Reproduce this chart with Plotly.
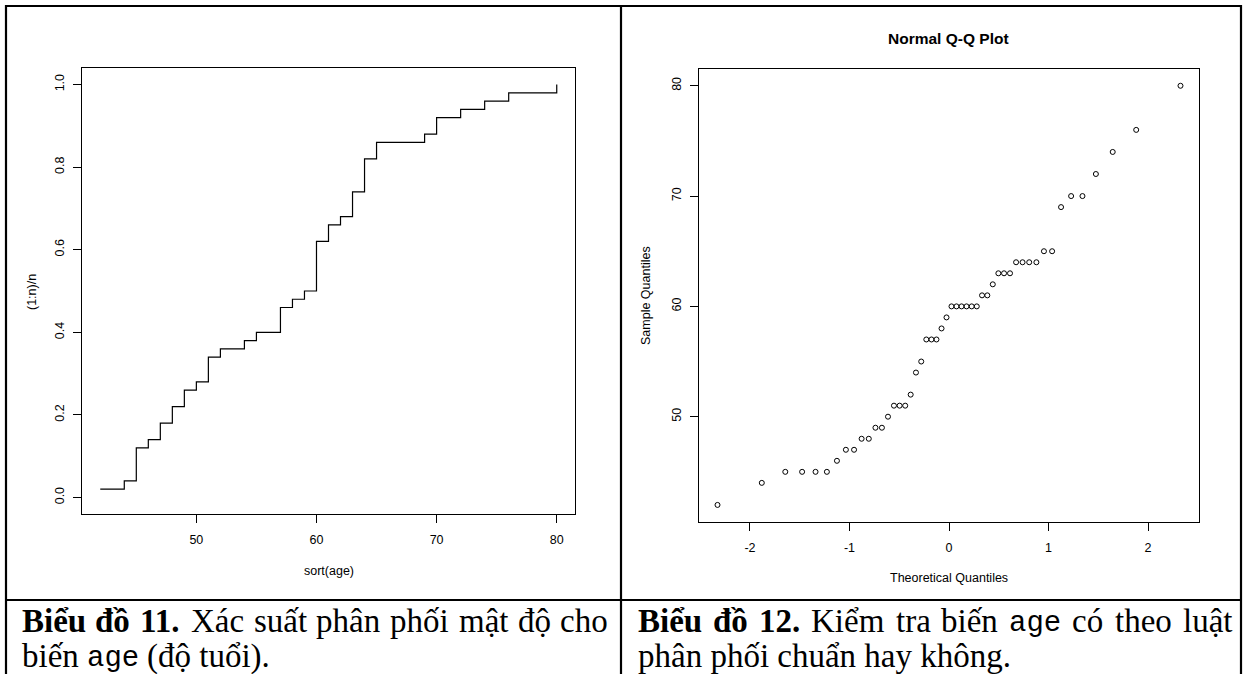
import unicodedata
import plotly.graph_objects as go

W, H = 1246, 674

# sorted ages (n = 50)
age_sorted = [42, 44, 45, 45, 45, 45, 46, 47, 47, 48,
              48, 49, 49, 50, 51, 51, 51, 52, 54, 55,
              57, 57, 57, 58, 59, 60, 60, 60, 60, 60,
              60, 61, 61, 62, 63, 63, 63, 64, 64, 64,
              64, 65, 65, 69, 70, 70, 72, 74, 76, 80]

# (1:n)/n
cum_prop = [0.02, 0.04, 0.06, 0.08, 0.10, 0.12, 0.14, 0.16, 0.18, 0.20,
            0.22, 0.24, 0.26, 0.28, 0.30, 0.32, 0.34, 0.36, 0.38, 0.40,
            0.42, 0.44, 0.46, 0.48, 0.50, 0.52, 0.54, 0.56, 0.58, 0.60,
            0.62, 0.64, 0.66, 0.68, 0.70, 0.72, 0.74, 0.76, 0.78, 0.80,
            0.82, 0.84, 0.86, 0.88, 0.90, 0.92, 0.94, 0.96, 0.98, 1.00]

# theoretical normal quantiles for the 50 ordered ages
theo_q = [-2.326, -1.881, -1.645, -1.476, -1.341, -1.227, -1.126, -1.036, -0.954, -0.878,
          -0.806, -0.739, -0.674, -0.613, -0.553, -0.496, -0.440, -0.385, -0.332, -0.279,
          -0.228, -0.176, -0.126, -0.075, -0.025, 0.025, 0.075, 0.126, 0.176, 0.228,
          0.279, 0.332, 0.385, 0.440, 0.496, 0.553, 0.613, 0.674, 0.739, 0.806,
          0.878, 0.954, 1.036, 1.126, 1.227, 1.341, 1.476, 1.645, 1.881, 2.326]

ecdf_xticks = [50, 60, 70, 80]
ecdf_yticks = [0.0, 0.2, 0.4, 0.6, 0.8, 1.0]
qq_xticks = [-2, -1, 0, 1, 2]
qq_xlabels = ["-2", "-1", "0", "1", "2"]
qq_yticks = [50, 60, 70, 80]

SANS = "Liberation Sans, Arial, sans-serif"
SERIF = "Liberation Serif, Times New Roman, serif"
MONO = "Liberation Mono, Courier New, monospace"


def px(x):
    return x / W


def py(y):
    return 1 - y / H


fig = go.Figure()

fig.add_trace(go.Scatter(
    x=age_sorted, y=cum_prop, mode="lines", line_shape="hv",
    line=dict(color="black", width=1.2),
    xaxis="x", yaxis="y", showlegend=False,
))

fig.add_trace(go.Scatter(
    x=theo_q, y=age_sorted, mode="markers",
    marker=dict(symbol="circle-open", size=5, color="black", line=dict(width=1, color="black")),
    xaxis="x2", yaxis="y2", showlegend=False,
))

axis_common = dict(
    showline=True, linecolor="black", linewidth=1, mirror=True,
    ticks="outside", ticklen=8, tickwidth=1, tickcolor="black",
    showgrid=False, zeroline=False,
    tickfont=dict(family=SANS, size=12.5, color="black"),
)

fig.update_layout(
    width=W, height=H,
    margin=dict(l=0, r=0, t=0, b=0),
    paper_bgcolor="white", plot_bgcolor="white",
    xaxis=dict(axis_common, domain=[px(82), px(575)], range=[40.48, 81.52],
               tickvals=ecdf_xticks, ticklabelstandoff=6, anchor="y"),
    yaxis=dict(axis_common, domain=[py(514), py(68)], range=[-0.04, 1.04],
               tickvals=ecdf_yticks, tickformat=".1f", tickangle=-90,
               ticklabelstandoff=4, anchor="x"),
    xaxis2=dict(axis_common, domain=[px(699), px(1199)], range=[-2.512, 2.512],
                tickvals=qq_xticks, ticktext=qq_xlabels, ticklabelstandoff=6, anchor="y2"),
    yaxis2=dict(axis_common, domain=[py(521.7), py(69)], range=[40.48, 81.52],
                tickvals=qq_yticks, tickangle=-90, ticklabelstandoff=4, anchor="x2"),
)

annotations = []


def add_text(text, x, y, size, family, bold=False, angle=0, xanchor="center"):
    annotations.append(dict(
        text=f"<b>{text}</b>" if bold else text,
        x=px(x), y=py(y), xref="paper", yref="paper",
        xanchor=xanchor, yanchor="middle", showarrow=False, textangle=angle,
        borderpad=0, font=dict(family=family, size=size, color="black"),
    ))


# axis titles and plot title
add_text("sort(age)", 328.5, 571, 12.5, SANS)
add_text("(1:n)/n", 32, 292, 12.5, SANS, angle=-90)
add_text("Normal Q-Q Plot", 948.5, 39, 15.5, SANS, bold=True)
add_text("Theoretical Quantiles", 949, 578, 12.5, SANS)
add_text("Sample Quantiles", 646, 296, 12.5, SANS, angle=-90)

# ---- captions: Times-metric advance widths (per 1000 em) for justified lines
TIMES = dict(a=444, b=500, c=444, d=500, e=444, f=333, g=500, h=500, i=278, j=278,
             k=500, l=278, m=778, n=500, o=500, p=500, q=500, r=333, s=389, t=278,
             u=500, v=500, w=722, x=500, y=500, z=444, B=667, K=722, X=722)
TIMES_BOLD = dict(TIMES, d=556, u=556, h=556, n=556, p=556, r=444, B=667, K=778)
DIGITS = {str(k): 500 for k in range(10)}
PUNCT = {".": 250, "(": 333, ")": 333, " ": 250}


def base_char(ch):
    if ch == "đ":
        return "d"
    return unicodedata.normalize("NFD", ch)[0]


def text_width(word, size, kind):
    if kind == "mono":
        return 0.6 * size * len(word)
    table = TIMES_BOLD if kind == "bold" else TIMES
    total = 0
    for ch in word:
        b = base_char(ch)
        total += table.get(b, DIGITS.get(b, PUNCT.get(b, 500)))
    return total * size / 1000


CAP = 33
MONO_SIZE = 29
MONO_DROP = 2  # keeps the smaller monospace word on the serif baseline
L1, L2 = 621, 656


def size_of(kind):
    return MONO_SIZE if kind == "mono" else CAP


def put_word(w, k, x, y):
    if k == "mono":
        add_text(w, x, y + MONO_DROP, MONO_SIZE, MONO, xanchor="left")
    else:
        add_text(w, x, y, CAP, SERIF, bold=(k == "bold"), xanchor="left")


def place_justified(words, x0, x1, y):
    widths = [text_width(w, size_of(k), k) for w, k in words]
    gap = (x1 - x0 - sum(widths)) / (len(words) - 1)
    x = x0
    for (w, k), wd in zip(words, widths):
        put_word(w, k, x, y)
        x += wd + gap


def place_plain(words, x0, y):
    x = x0
    space = 0.25 * CAP
    for w, k in words:
        put_word(w, k, x, y)
        x += text_width(w, size_of(k), k) + space


left_l1 = [("Biểu", "bold"), ("đồ", "bold"), ("11.", "bold"), ("Xác", "reg"),
           ("suất", "reg"), ("phân", "reg"), ("phối", "reg"), ("mật", "reg"),
           ("độ", "reg"), ("cho", "reg")]
left_l2 = [("biến", "reg"), ("age", "mono"), ("(độ tuổi).", "reg")]
right_l1 = [("Biểu", "bold"), ("đồ", "bold"), ("12.", "bold"), ("Kiểm", "reg"),
            ("tra", "reg"), ("biến", "reg"), ("age", "mono"), ("có", "reg"),
            ("theo", "reg"), ("luật", "reg")]
right_l2 = [("phân phối chuẩn hay không.", "reg")]

place_justified(left_l1, 20.6, 607, L1)
place_plain(left_l2, 20.6, L2)
place_justified(right_l1, 636.8, 1231, L1)
place_plain(right_l2, 636.8, L2)

fig.update_layout(annotations=annotations)

# table borders
shapes = []


def rule(x0, y0, x1, y1):
    shapes.append(dict(type="line", xref="paper", yref="paper",
                       x0=px(x0), y0=py(y0), x1=px(x1), y1=py(y1),
                       line=dict(color="black", width=2.2), layer="above"))


rule(5, 6, 1242, 6)
rule(6, 5, 6, 680)
rule(1241, 5, 1241, 680)
rule(621, 5, 621, 680)
rule(5, 600, 1242, 600)
fig.update_layout(shapes=shapes)

fig.write_html("out.html")
